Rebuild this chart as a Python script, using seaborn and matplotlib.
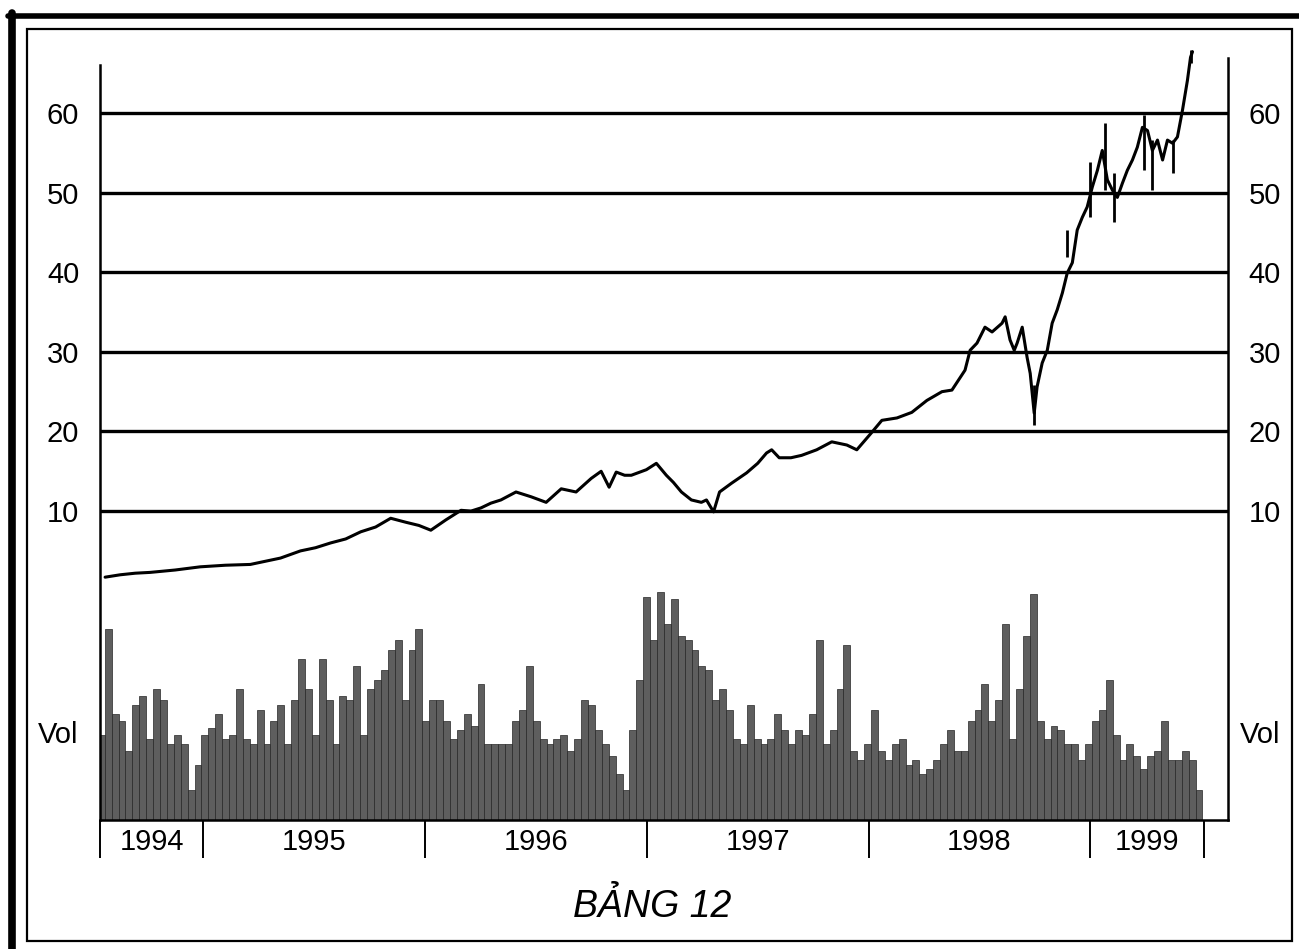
"""
plot.py
Price chart 1994-1999 with daily volume underneath (scanned book figure "BẢNG 12")
"""

import numpy as np
import matplotlib.pyplot as plt
from matplotlib import font_manager
from matplotlib.lines import Line2D
from matplotlib.patches import Rectangle
import seaborn as sns

# ============== DATA ==============
# price line, decimal years / price
price_t = [1994.557, 1994.625, 1994.693, 1994.760, 1994.873, 1994.986, 1995.099, 1995.212,
           1995.280, 1995.348, 1995.438, 1995.506, 1995.574, 1995.642, 1995.710, 1995.777,
           1995.845, 1995.913, 1995.972, 1996.026, 1996.094, 1996.162, 1996.207, 1996.252,
           1996.297, 1996.342, 1996.410, 1996.478, 1996.546, 1996.614, 1996.681, 1996.749,
           1996.794, 1996.830, 1996.862, 1996.900, 1996.930, 1996.998, 1997.043, 1997.088,
           1997.120, 1997.156, 1997.201, 1997.246, 1997.269, 1997.301, 1997.328, 1997.382,
           1997.450, 1997.500, 1997.540, 1997.563, 1997.597, 1997.650, 1997.698, 1997.766,
           1997.834, 1997.902, 1997.947, 1998.015, 1998.060, 1998.128, 1998.195, 1998.263,
           1998.331, 1998.376, 1998.435, 1998.458, 1998.489, 1998.525, 1998.557, 1998.602,
           1998.616, 1998.638, 1998.657, 1998.670, 1998.693, 1998.715, 1998.729, 1998.747,
           1998.760, 1998.783, 1998.806, 1998.828, 1998.851, 1998.874, 1998.896, 1998.919,
           1998.941, 1998.964, 1998.986, 1999.009, 1999.032, 1999.054, 1999.077, 1999.100,
           1999.122, 1999.145, 1999.167, 1999.190, 1999.212, 1999.235, 1999.258, 1999.280,
           1999.303, 1999.326, 1999.348, 1999.371, 1999.393, 1999.416, 1999.438, 1999.452,
           1999.461]
price = [1.7, 2.0, 2.2, 2.3, 2.6, 3.0, 3.2, 3.3,
         3.7, 4.1, 5.0, 5.4, 6.0, 6.5, 7.4, 8.0,
         9.1, 8.6, 8.2, 7.6, 8.9, 10.1, 10.0, 10.4,
         11.0, 11.4, 12.4, 11.8, 11.1, 12.8, 12.4, 14.1,
         15.0, 13.0, 14.9, 14.5, 14.5, 15.2, 16.0, 14.5,
         13.6, 12.4, 11.4, 11.1, 11.4, 9.9, 12.4, 13.5,
         14.8, 16.0, 17.3, 17.7, 16.7, 16.7, 17.0, 17.7,
         18.7, 18.3, 17.7, 19.9, 21.4, 21.7, 22.4, 23.9,
         25.0, 25.2, 27.7, 30.2, 31.1, 33.1, 32.5, 33.6,
         34.4, 31.5, 30.2, 31.1, 33.1, 29.3, 27.3, 22.3,
         25.6, 28.6, 30.2, 33.6, 35.3, 37.4, 39.9, 41.2,
         45.3, 46.9, 48.2, 50.7, 52.8, 55.3, 51.6, 50.3,
         49.4, 51.2, 52.8, 54.1, 55.7, 58.2, 57.8, 55.3,
         56.6, 54.1, 56.6, 56.2, 57.0, 60.4, 64.1, 67.0,
         67.7]

# daily high-low ranges where the bars stand out (late 1998 - 1999)
range_t = [1998.747, 1998.896, 1999.000, 1999.068, 1999.108, 1999.244, 1999.280, 1999.371, 1999.452]
range_low = [20.8, 41.9, 46.9, 50.3, 46.3, 52.8, 50.3, 52.5, 66.3]
range_high = [25.8, 45.3, 53.8, 58.7, 52.5, 59.7, 56.6, 56.6, 67.9]

# volume, 0-100 relative, roughly every 12 days from mid 1994
volume = [37, 83, 46, 43, 30, 50, 54, 35, 57, 52, 33, 37, 33, 13, 24, 37, 40, 46, 35, 37,
          57, 35, 33, 48, 33, 43, 50, 33, 52, 70, 57, 37, 70, 52, 33, 54, 52, 67, 37, 57,
          61, 65, 74, 78, 52, 74, 83, 43, 52, 52, 43, 35, 39, 46, 41, 59, 33, 33, 33, 33,
          43, 48, 67, 43, 35, 33, 35, 37, 30, 35, 52, 50, 39, 33, 28, 20, 13, 39, 61, 97,
          78, 99, 85, 96, 80, 78, 74, 67, 65, 52, 57, 48, 35, 33, 50, 35, 33, 35, 46, 39,
          33, 39, 37, 46, 78, 33, 39, 57, 76, 30, 26, 33, 48, 30, 26, 33, 35, 24, 26, 20,
          22, 26, 33, 39, 30, 30, 43, 48, 59, 43, 52, 85, 35, 57, 80, 98, 43, 35, 41, 39,
          33, 33, 26, 33, 43, 48, 61, 37, 26, 33, 28, 22, 28, 30, 43, 26, 26, 30, 26, 13]
vol_start, vol_end = 1994.540, 1999.490

year_edges = [1994.534, 1995, 1996, 1997, 1998, 1999, 1999.515]
year_labels = ['1994', '1995', '1996', '1997', '1998', '1999']
price_ticks = [10, 20, 30, 40, 50, 60]
# ==================================

sns.set_style('white')
installed = {f.name for f in font_manager.fontManager.ttflist}
narrow = 'Liberation Sans Narrow' if 'Liberation Sans Narrow' in installed else 'Liberation Sans'
plt.rcParams['font.family'] = ['Liberation Sans', 'DejaVu Sans']
plt.rcParams['text.color'] = 'black'
plt.rcParams['xtick.color'] = 'black'
plt.rcParams['ytick.color'] = 'black'

fig = plt.figure(figsize=(12.99, 9.49), dpi=100)
W, H = 1299, 949
rect = [100 / W, 1 - 820 / H, 1128 / W, 785 / H]

# volume on its own axes behind the price axes
axv = fig.add_axes(rect, frameon=False)
vol_x = np.linspace(vol_start, vol_end, len(volume))
step = vol_x[1] - vol_x[0]
axv.bar(vol_x, volume, width=step, color='#5e5e5e', edgecolor='#262626', linewidth=0.5, align='center')
axv.set_xlim(year_edges[0], 1999.621)
axv.set_ylim(0, 341)
axv.set_xticks([])
axv.set_yticks([])

ax = fig.add_axes(rect)
ax.patch.set_alpha(0)
sns.lineplot(x=price_t, y=price, ax=ax, color='black', linewidth=2.2, estimator=None, sort=False)
ax.vlines(range_t, range_low, range_high, color='black', linewidth=2.0)
ax.set_xlim(year_edges[0], 1999.621)
ax.set_ylim(-28.8, 69.8)

ax.set_yticks(price_ticks)
ax.yaxis.grid(True, color='black', linewidth=2.4)
ax.tick_params(axis='y', length=0, labelsize=21, labelleft=True, labelright=True,
               labelcolor='black', pad=15)

# year separators down, labels centred between them
ax.set_xticks(year_edges)
ax.set_xticklabels([])
ax.set_xticks([(a + b) / 2 for a, b in zip(year_edges[:-1], year_edges[1:])], minor=True)
ax.set_xticklabels(year_labels, minor=True)
ax.tick_params(axis='x', which='major', direction='out', length=27, width=1.4, color='black', bottom=True)
ax.tick_params(axis='x', which='minor', length=0, labelsize=21, pad=6, labelcolor='black')

for side in ['left', 'right', 'bottom']:
    ax.spines[side].set_color('black')
    ax.spines[side].set_linewidth(1.8)
ax.spines['top'].set_visible(False)
ax.spines['left'].set_bounds(-28.8, 66.0)
ax.spines['right'].set_bounds(-28.8, 66.9)

fig.text(38 / W, 1 - 735 / H, 'Vol', fontsize=21, va='center', ha='left', color='black')
fig.text(1240 / W, 1 - 735 / H, 'Vol', fontsize=21, va='center', ha='left', color='black')
fig.text(652 / W, 1 - 917 / H, 'BẢNG 12', fontsize=27, style='italic', color='black',
         family=[narrow, 'DejaVu Sans'], ha='center', va='baseline')

# frame of the scanned page
fig.add_artist(Rectangle((27 / W, 1 - 941 / H), 1265 / W, 912 / H, transform=fig.transFigure,
                         fill=False, edgecolor='black', linewidth=1.6))
fig.add_artist(Line2D([11.5 / W, 11.5 / W], [0, 1 - 13 / H], transform=fig.transFigure,
                      color='black', linewidth=5.5))
fig.add_artist(Line2D([8 / W, 1], [1 - 15.5 / H, 1 - 15.5 / H], transform=fig.transFigure,
                      color='black', linewidth=4.0))

fig.savefig('out.png', dpi=100)
